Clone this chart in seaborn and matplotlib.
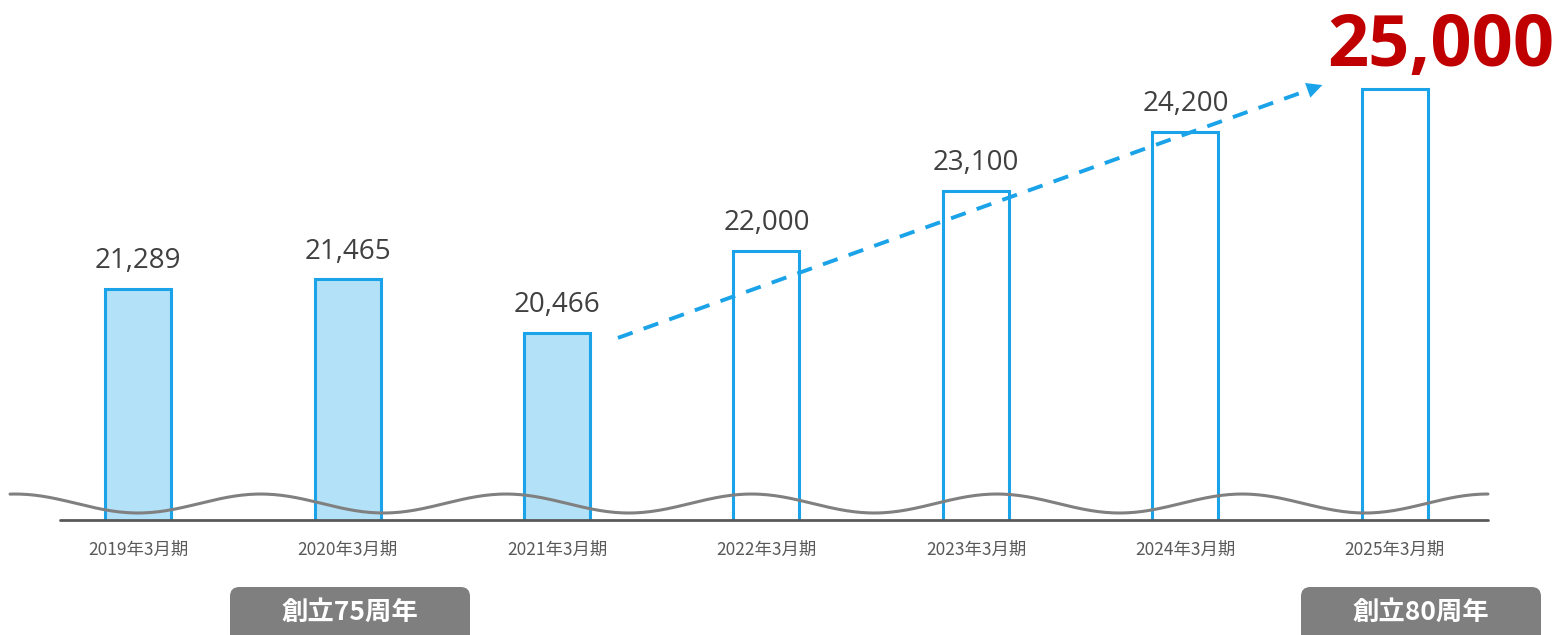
import numpy as np
import matplotlib
matplotlib.use("Agg")
import matplotlib.pyplot as plt
from matplotlib.patches import FancyBboxPatch
import seaborn as sns

# data
periods = ["2019年3月期", "2020年3月期", "2021年3月期", "2022年3月期",
           "2023年3月期", "2024年3月期", "2025年3月期"]
values = [21289, 21465, 20466, 22000, 23100, 24200, 25000]
is_actual = [True, True, True, False, False, False, False]
value_labels = ["21,289", "21,465", "20,466", "22,000", "23,100", "24,200", "25,000"]
badges = ["創立75周年", "創立80周年"]

BLUE = "#1AA3E8"
FILL = "#B3E1F7"
GRAY_TXT = "#404040"

sns.set_theme(style="white")
plt.rcParams["font.family"] = ["Open Sans", "Noto Sans CJK JP", "DejaVu Sans"]

fig = plt.figure(figsize=(15.6, 6.35), dpi=100)
# axes: bottom edge = baseline (px 520 from top), up to the top of the figure
ax = fig.add_axes([0, 115 / 635, 1, 520 / 635])

df_colors = [FILL if a else "white" for a in is_actual]
sns.barplot(x=periods, y=values, hue=periods, palette=df_colors, legend=False,
            width=0.315, edgecolor=BLUE, linewidth=2.2, saturation=1, ax=ax)

base = 17000
ax.set_ylim(base, base + 520 * 18.56)
ax.set_xlim(-0.659, 6.788)
for s in ax.spines.values():
    s.set_visible(False)
ax.set_yticks([])
ax.set_xlabel("")
ax.tick_params(axis="x", length=0, pad=15, labelsize=12.5, colors="#595959")
for t in ax.get_xticklabels():
    t.set_fontfamily(["Noto Sans CJK JP", "DejaVu Sans"])

# baseline
ax.plot([-0.372, 6.444], [base, base], color="#595959", lw=2, clip_on=False, zorder=3)

# decorative wave (broken axis mark)
wx = np.linspace(-0.611, 6.444, 600)
wy = base + 306 - 176 * np.cos(2 * np.pi * wx / 1.1714)
ax.plot(wx, wy, color="#808080", lw=2.2, zorder=4)

# value labels
for i, (v, lab) in enumerate(zip(values, value_labels)):
    if i == len(values) - 1:
        ax.annotate(lab, xy=(i, v), xytext=(33, 4), textcoords="offset points",
                    ha="center", va="bottom", fontsize=52, fontweight="bold",
                    color="#C00000", annotation_clip=False)
    else:
        ax.annotate(lab, xy=(i, v), xytext=(0, 10), textcoords="offset points",
                    ha="center", va="bottom", fontsize=20, color=GRAY_TXT)

# dashed trend arrow
x0, y0 = 2.291, 20380
x1, y1 = 5.666, 25090
slope = (y1 - y0) / (x1 - x0)
ax.plot([x0, x1 - 0.06], [y0, y1 - 0.06 * slope],
        color=BLUE, lw=2.8, dashes=(4, 3), zorder=5)
ax.annotate("", xy=(x1, y1), xytext=(x1 - 0.08, y1 - 0.08 * slope),
            arrowprops=dict(arrowstyle="-|>", color=BLUE, lw=0, mutation_scale=28),
            zorder=5)

# badges
for bx, txt in zip([230, 1301], badges):
    box = FancyBboxPatch((bx / 1560, -10 / 635), 240 / 1560, 58 / 635,
                         boxstyle="round,pad=0,rounding_size=0.006",
                         transform=fig.transFigure, facecolor="#7F7F7F",
                         edgecolor="none", mutation_aspect=1560 / 635)
    fig.add_artist(box)
    fig.text((bx + 120) / 1560, 23 / 635, txt, ha="center", va="center",
             fontsize=19, fontweight="bold", color="white",
             family=["Noto Sans CJK JP", "DejaVu Sans"])

fig.savefig("out.png", dpi=100)
